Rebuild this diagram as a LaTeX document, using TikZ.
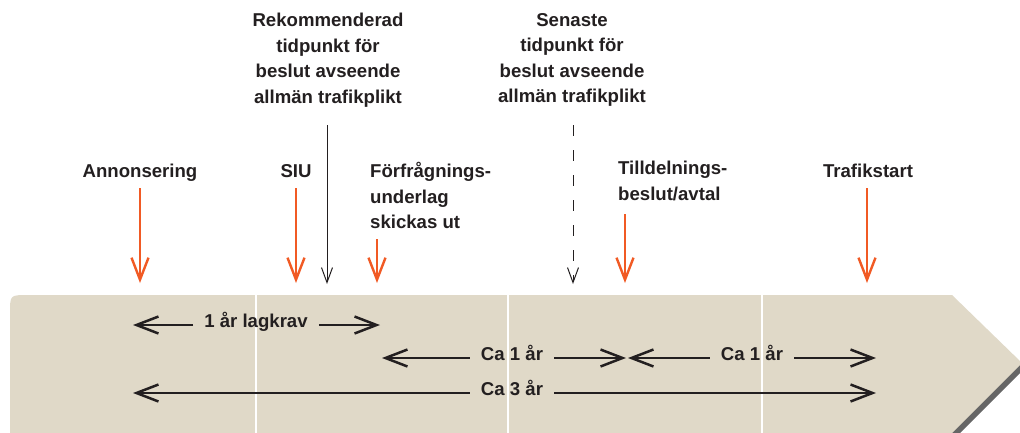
\documentclass[tikz,border=0pt]{standalone}
\usepackage{fontspec}
\setmainfont{Liberation Sans}
\usetikzlibrary{arrows.meta}
\definecolor{band}{RGB}{224,217,200}
\definecolor{orng}{RGB}{241,90,36}
\definecolor{ink}{RGB}{35,31,32}
\begin{document}
\begin{tikzpicture}[x=1pt,y=-1pt,
  lbl/.style={font=\fontsize{18.6}{25.5}\selectfont\bfseries, text=ink, inner sep=0pt},
  mlbl/.style={lbl, inner xsep=11pt, anchor=mid},
  oarr/.style={draw=orng, line width=2.4pt, -{Straight Barb[length=22pt,width=17pt]}},
  harr/.style={draw=ink, line width=2.5pt, -{Straight Barb[length=22pt,width=17pt]}},
  tarr/.style={draw=ink, line width=1pt, -{Straight Barb[length=15pt,width=11pt]}},
  divider/.style={draw=white, line width=2.5pt},
]
\clip (0,0) rectangle (1020,432);
\useasboundingbox (0,0) rectangle (1020,432);
\fill[white] (0,0) rectangle (1020,432);
% shadow and band
\fill[black!60] ([shift={(3,5)}]10,460) -- ([shift={(3,5)}]10,313) -- ([shift={(3,5)}]952,295) -- ([shift={(3,5)}]1022,363) -- ([shift={(3,5)}]925,460) -- cycle;
\fill[band] (10,460) -- (10,313) .. controls (10,295) .. (28,295) -- (952,295) -- (1022,363) -- (925,460) -- cycle;
\draw[divider] (256,295) -- (256,440);
\draw[divider] (508,295) -- (508,440);
\draw[divider] (762,295) -- (762,440);
% top labels
\node[lbl, align=center, anchor=north] (rek) at (328,13) {Rekommenderad\\tidpunkt för\\beslut avseende\\allmän trafikplikt};
\node[lbl, align=center, anchor=north] (sen) at (572,13) {Senaste\\tidpunkt för\\beslut avseende\\allmän trafikplikt};
% event labels
\node[lbl, anchor=base] (ann) at (140,177) {Annonsering};
\node[lbl, anchor=base] (siu) at (296,177) {SIU};
\node[lbl, align=left, anchor=north west] (ffu) at (370,162) {Förfrågnings-\\underlag\\skickas ut};
\node[lbl, align=left, anchor=north west] (tld) at (618,161) {Tilldelnings-\\beslut/avtal};
\node[lbl, anchor=base] (tfs) at (868,177) {Trafikstart};
% coordinates
\coordinate (o1s) at (140,188); \coordinate (o1e) at (140,283);
\coordinate (o2s) at (296,188); \coordinate (o2e) at (296,283);
\coordinate (o3s) at (377,239); \coordinate (o3e) at (377,283);
\coordinate (o4s) at (625,214); \coordinate (o4e) at (625,283);
\coordinate (o5s) at (867,188); \coordinate (o5e) at (867,283);
\coordinate (k1s) at (327,125); \coordinate (k1e) at (327,284);
\coordinate (k2s) at (573,125); \coordinate (k2e) at (573,284);
% orange arrows
\draw[oarr] (o1s) -- (o1e);
\draw[oarr] (o2s) -- (o2e);
\draw[oarr] (o3s) -- (o3e);
\draw[oarr] (o4s) -- (o4e);
\draw[oarr] (o5s) -- (o5e);
% thin decision arrows
\draw[tarr] (k1s) -- (k1e);
\draw[tarr, dash pattern=on 11pt off 14pt] (k2s) -- (k2e);
% duration arrows
\node[mlbl] (t1) at (256,325) {1 år lagkrav};
\node[mlbl] (t2) at (512,358) {Ca 1 år};
\node[mlbl] (t3) at (752,358) {Ca 1 år};
\node[mlbl] (t4) at (512,393) {Ca 3 år};
\coordinate (a1l) at (133,325); \coordinate (a1r) at (380,325);
\coordinate (a2l) at (382,358); \coordinate (a2r) at (626,358);
\coordinate (a3l) at (628,358); \coordinate (a3r) at (876,358);
\coordinate (a4l) at (133,393); \coordinate (a4r) at (876,393);
\draw[harr] (t1.mid west) -- (a1l);
\draw[harr] (t1.mid east) -- (a1r);
\draw[harr] (t2.mid west) -- (a2l);
\draw[harr] (t2.mid east) -- (a2r);
\draw[harr] (t3.mid west) -- (a3l);
\draw[harr] (t3.mid east) -- (a3r);
\draw[harr] (t4.mid west) -- (a4l);
\draw[harr] (t4.mid east) -- (a4r);
\end{tikzpicture}
\end{document}
